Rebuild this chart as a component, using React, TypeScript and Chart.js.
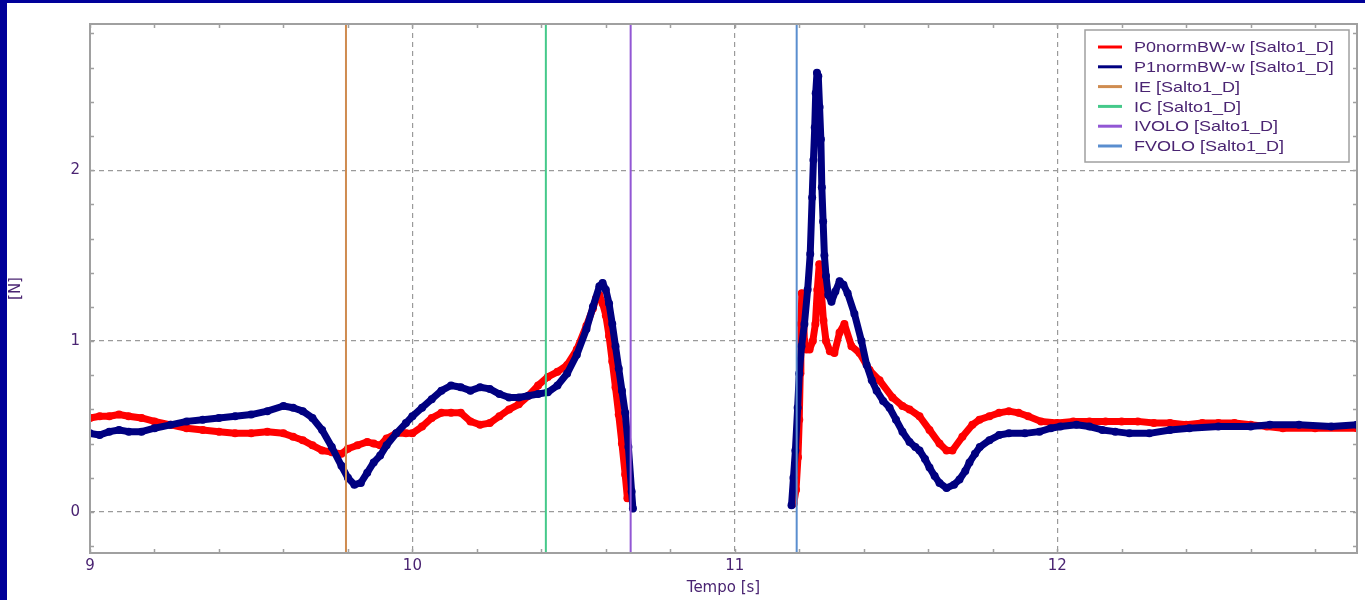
import React, { useEffect, useRef } from "react";
import { Chart, registerables } from "chart.js";

Chart.register(...registerables);

// ---- Data ----
const p0Time = [
  9.0, 9.03, 9.06, 9.09, 9.12, 9.16, 9.2, 9.25, 9.3, 9.35, 9.4, 9.45, 9.5, 9.55, 9.6, 9.63, 9.66, 9.69, 9.72, 9.75,
  9.78, 9.8, 9.83, 9.86, 9.88, 9.9, 9.92, 9.95, 9.98, 10.0, 10.03, 10.06, 10.09, 10.12, 10.15, 10.18, 10.21, 10.24,
  10.27, 10.3, 10.33, 10.36, 10.39, 10.42, 10.45, 10.48, 10.51, 10.54, 10.56, 10.57, 10.58, 10.59, 10.6, 10.61, 10.62,
  10.63, 10.64, 10.65, 10.66, 10.667,
  10.9,
  11.183, 11.19, 11.196, 11.2, 11.203, 11.205, 11.208, 11.212, 11.216, 11.222, 11.232, 11.242, 11.25, 11.256, 11.262,
  11.268, 11.275, 11.283, 11.295, 11.309, 11.325, 11.34, 11.362, 11.387, 11.418, 11.449, 11.489, 11.52, 11.542,
  11.573, 11.604, 11.635, 11.657, 11.675, 11.706, 11.737, 11.759, 11.79, 11.82, 11.85, 11.88, 11.91, 11.95, 12.0,
  12.05, 12.1, 12.15, 12.2, 12.25, 12.3, 12.35, 12.4, 12.45, 12.5, 12.55, 12.6, 12.65, 12.7, 12.8, 12.93,
];
const p0Force: (number | null)[] = [
  0.55, 0.56, 0.56, 0.57, 0.56, 0.55, 0.53, 0.51, 0.49, 0.48, 0.47, 0.46, 0.46, 0.47, 0.46, 0.44, 0.42, 0.39, 0.36, 0.35,
  0.34, 0.37, 0.39, 0.41, 0.4, 0.39, 0.43, 0.46, 0.46, 0.46, 0.5, 0.55, 0.58, 0.58, 0.58, 0.53, 0.51, 0.52,
  0.56, 0.6, 0.63, 0.68, 0.74, 0.79, 0.82, 0.86, 0.95, 1.09, 1.19, 1.25, 1.27, 1.22, 1.15, 1.03, 0.88,
  0.73, 0.57, 0.4, 0.22, 0.08,
  null,
  0.05, 0.13, 0.32, 0.54, 0.81, 1.1, 1.28, 1.2, 1.0, 0.95, 0.95, 1.0, 1.1, 1.3, 1.45,
  1.3, 1.12, 1.0, 0.94, 0.93, 1.05, 1.1, 0.97, 0.93, 0.83, 0.77, 0.67, 0.62, 0.6,
  0.56, 0.48, 0.4, 0.36, 0.36, 0.44, 0.51, 0.54, 0.56, 0.58, 0.59, 0.58, 0.56, 0.53, 0.52,
  0.53, 0.53, 0.53, 0.53, 0.53, 0.52, 0.52, 0.51, 0.52, 0.52, 0.52, 0.51, 0.5, 0.49, 0.49, 0.49,
];

const p1Time = [
  9.0, 9.03, 9.06, 9.09, 9.12, 9.16, 9.2, 9.25, 9.3, 9.35, 9.4, 9.45, 9.5, 9.55, 9.6, 9.63, 9.66, 9.69, 9.72, 9.75,
  9.78, 9.8, 9.82, 9.84, 9.86, 9.88, 9.9, 9.92, 9.95, 9.98, 10.0, 10.03, 10.06, 10.09, 10.12, 10.15, 10.18, 10.21,
  10.24, 10.27, 10.3, 10.33, 10.36, 10.39, 10.42, 10.45, 10.48, 10.51, 10.54, 10.56, 10.58, 10.59, 10.6, 10.61, 10.62,
  10.63, 10.64, 10.65, 10.66, 10.67, 10.68, 10.684,
  10.9,
  11.176, 11.182, 11.188, 11.195, 11.2, 11.207, 11.216, 11.226, 11.234, 11.24, 11.244, 11.248, 11.251, 11.255,
  11.259, 11.263, 11.267, 11.27, 11.274, 11.278, 11.283, 11.29, 11.3, 11.312, 11.325, 11.337, 11.35, 11.371, 11.393,
  11.409, 11.425, 11.44, 11.46, 11.48, 11.5, 11.52, 11.542, 11.56, 11.573, 11.59, 11.604, 11.62, 11.635, 11.657,
  11.68, 11.697, 11.715, 11.728, 11.745, 11.76, 11.79, 11.82, 11.85, 11.9, 11.945, 11.98, 12.01, 12.06, 12.1, 12.14,
  12.18, 12.224, 12.286, 12.35, 12.41, 12.5, 12.6, 12.66, 12.75, 12.85, 12.93,
];
const p1Force: (number | null)[] = [
  0.46, 0.45, 0.47, 0.48, 0.47, 0.47, 0.49, 0.51, 0.53, 0.54, 0.55, 0.56, 0.57, 0.59, 0.62, 0.61, 0.59, 0.55, 0.48, 0.38,
  0.27, 0.2, 0.16, 0.17, 0.23, 0.29, 0.33, 0.39, 0.46, 0.52, 0.56, 0.61, 0.66, 0.71, 0.74, 0.73, 0.71, 0.73,
  0.72, 0.69, 0.67, 0.67, 0.68, 0.69, 0.7, 0.74, 0.81, 0.92, 1.07, 1.2, 1.32, 1.34, 1.3, 1.22, 1.1,
  0.97, 0.84, 0.71, 0.58, 0.38, 0.12, 0.02,
  null,
  0.04, 0.2, 0.36, 0.61, 0.81, 0.97, 1.1, 1.3, 1.51, 1.84, 2.06, 2.25, 2.45, 2.57,
  2.55, 2.37, 2.18, 1.9, 1.7, 1.5, 1.38, 1.27, 1.23, 1.29, 1.35, 1.33, 1.28, 1.16, 1.0,
  0.86, 0.77, 0.71, 0.65, 0.61, 0.54, 0.47, 0.41, 0.38, 0.36, 0.31, 0.26, 0.21, 0.17, 0.14,
  0.16, 0.19, 0.24, 0.29, 0.34, 0.38, 0.42, 0.45, 0.46, 0.46, 0.47, 0.49, 0.5, 0.51, 0.5, 0.48,
  0.47, 0.46, 0.46, 0.48, 0.49, 0.5, 0.5, 0.51, 0.51, 0.5, 0.51,
];

const eventNames = ["IE [Salto1_D]", "IC [Salto1_D]", "IVOLO [Salto1_D]", "FVOLO [Salto1_D]"];
const eventTimes = [9.794, 10.414, 10.677, 11.192];
const eventColors = ["#cf8c50", "#45c98a", "#9257d4", "#5a8ecf"];

const seriesNames = ["P0normBW-w [Salto1_D]", "P1normBW-w [Salto1_D]"];
const seriesColors = ["#ff0000", "#000080"];

const xMin = 9;
const xMax = 12.93;
const yMin = -0.24;
const yMax = 2.855;
const tickStep = 0.2;

const TEXT = "#4a2472";
const FRAME = "#a0a0a0";

const isInt = (v: number) => Math.abs(v - Math.round(v)) < 1e-6;
const toPts = (t: number[], v: (number | null)[]) => t.map((x, i) => ({ x, y: v[i] }));

const framePlugin = {
  id: "frameAndLegend",
  afterDatasetsDraw(chart: any) {
    const { ctx, chartArea: a, scales } = chart;
    ctx.save();
    // inward tick marks
    ctx.strokeStyle = FRAME;
    ctx.lineWidth = 1.5;
    ctx.beginPath();
    scales.x.ticks.forEach((t: any) => {
      const px = Math.round(scales.x.getPixelForValue(t.value)) + 0.5;
      ctx.moveTo(px, a.bottom);
      ctx.lineTo(px, a.bottom - 4);
      ctx.moveTo(px, a.top);
      ctx.lineTo(px, a.top + 4);
    });
    scales.y.ticks.forEach((t: any) => {
      const py = Math.round(scales.y.getPixelForValue(t.value)) + 0.5;
      ctx.moveTo(a.left, py);
      ctx.lineTo(a.left + 4, py);
      ctx.moveTo(a.right, py);
      ctx.lineTo(a.right - 4, py);
    });
    ctx.stroke();
    // frame
    ctx.lineWidth = 2;
    ctx.strokeRect(a.left, a.top, a.right - a.left, a.bottom - a.top);

    // legend box
    const bx = a.right - 272;
    const by = a.top + 6;
    const bw = 264;
    const bh = 132;
    ctx.fillStyle = "#ffffff";
    ctx.fillRect(bx, by, bw, bh);
    ctx.strokeStyle = FRAME;
    ctx.lineWidth = 1.5;
    ctx.strokeRect(bx, by, bw, bh);
    const names = [...seriesNames, ...eventNames];
    const colors = [...seriesColors, ...eventColors];
    ctx.font = "15px 'Liberation Sans', Arial, sans-serif";
    ctx.textBaseline = "middle";
    names.forEach((n, i) => {
      const y = by + 17 + i * 19.8;
      ctx.strokeStyle = colors[i];
      ctx.lineWidth = 3;
      ctx.beginPath();
      ctx.moveTo(bx + 13, y);
      ctx.lineTo(bx + 37, y);
      ctx.stroke();
      ctx.save();
      ctx.translate(bx + 49, y + 1);
      ctx.scale(1.2, 1);
      ctx.fillStyle = TEXT;
      ctx.fillText(n, 0, 0);
      ctx.restore();
    });
    ctx.restore();
  },
};

export default function App() {
  const ref = useRef<HTMLCanvasElement | null>(null);

  useEffect(() => {
    if (!ref.current) return;
    const font = { family: "'DejaVu Sans', sans-serif", size: 15 };
    const seriesDs = (i: number, t: number[], v: (number | null)[]) => ({
      label: seriesNames[i],
      data: toPts(t, v),
      borderColor: seriesColors[i],
      backgroundColor: seriesColors[i],
      borderWidth: 7,
      borderJoinStyle: "round",
      borderCapStyle: "round",
      pointRadius: 4,
      pointBorderWidth: 0,
      pointHoverRadius: 4,
      tension: 0,
      spanGaps: false,
      order: 2 - i + 1,
    });
    const eventDs = eventNames.map((n, i) => ({
      label: n,
      data: [
        { x: eventTimes[i], y: yMin },
        { x: eventTimes[i], y: yMax },
      ],
      borderColor: eventColors[i],
      backgroundColor: eventColors[i],
      borderWidth: 2,
      pointRadius: 0,
      order: 0,
    }));
    const chart = new Chart(ref.current, {
      type: "line",
      data: {
        datasets: [seriesDs(0, p0Time, p0Force), seriesDs(1, p1Time, p1Force), ...eventDs] as any,
      },
      plugins: [framePlugin],
      options: {
        animation: false,
        responsive: false,
        maintainAspectRatio: false,
        events: [],
        layout: { padding: { left: 0, top: 21, right: 8, bottom: 0 } },
        plugins: { legend: { display: false }, tooltip: { enabled: false } },
        scales: {
          x: {
            type: "linear",
            min: xMin,
            max: xMax,
            afterFit: (s: any) => {
              s.height = 47;
            },
            ticks: {
              stepSize: tickStep,
              includeBounds: false,
              autoSkip: false,
              maxRotation: 0,
              padding: 4,
              color: TEXT,
              font,
              callback: (v: any) => (isInt(Number(v)) ? String(Math.round(Number(v))) : ""),
            },
            grid: {
              color: (c: any) => (c.tick && isInt(c.tick.value) ? "#9a9a9a" : "rgba(0,0,0,0)"),
              lineWidth: 1.2,
              drawTicks: false,
            },
            border: { display: false, dash: [5, 4] },
            title: { display: true, text: "Tempo [s]", color: TEXT, font, padding: { top: 0, bottom: 3 } },
          },
          y: {
            type: "linear",
            min: yMin,
            max: yMax,
            afterFit: (s: any) => {
              s.width = 83;
            },
            ticks: {
              stepSize: tickStep,
              includeBounds: false,
              autoSkip: false,
              padding: 10,
              color: TEXT,
              font,
              callback: (v: any) => (isInt(Number(v)) ? String(Math.round(Number(v))) : ""),
            },
            grid: {
              color: (c: any) => (c.tick && isInt(c.tick.value) ? "#9a9a9a" : "rgba(0,0,0,0)"),
              lineWidth: 1.2,
              drawTicks: false,
            },
            border: { display: false, dash: [5, 4] },
            title: { display: true, text: "[N]", color: TEXT, font, padding: { top: 0, bottom: 0 } },
          },
        },
      } as any,
    });
    return () => chart.destroy();
  }, []);

  return (
    <div style={{ position: "fixed", left: 0, top: 0, width: 1365, height: 600, background: "#000099" }}>
      <div style={{ position: "absolute", left: 7, top: 3, width: 1358, height: 597, background: "#ffffff" }}>
        <canvas ref={ref} width={1358} height={597} style={{ display: "block", width: 1358, height: 597 }} />
      </div>
    </div>
  );
}
